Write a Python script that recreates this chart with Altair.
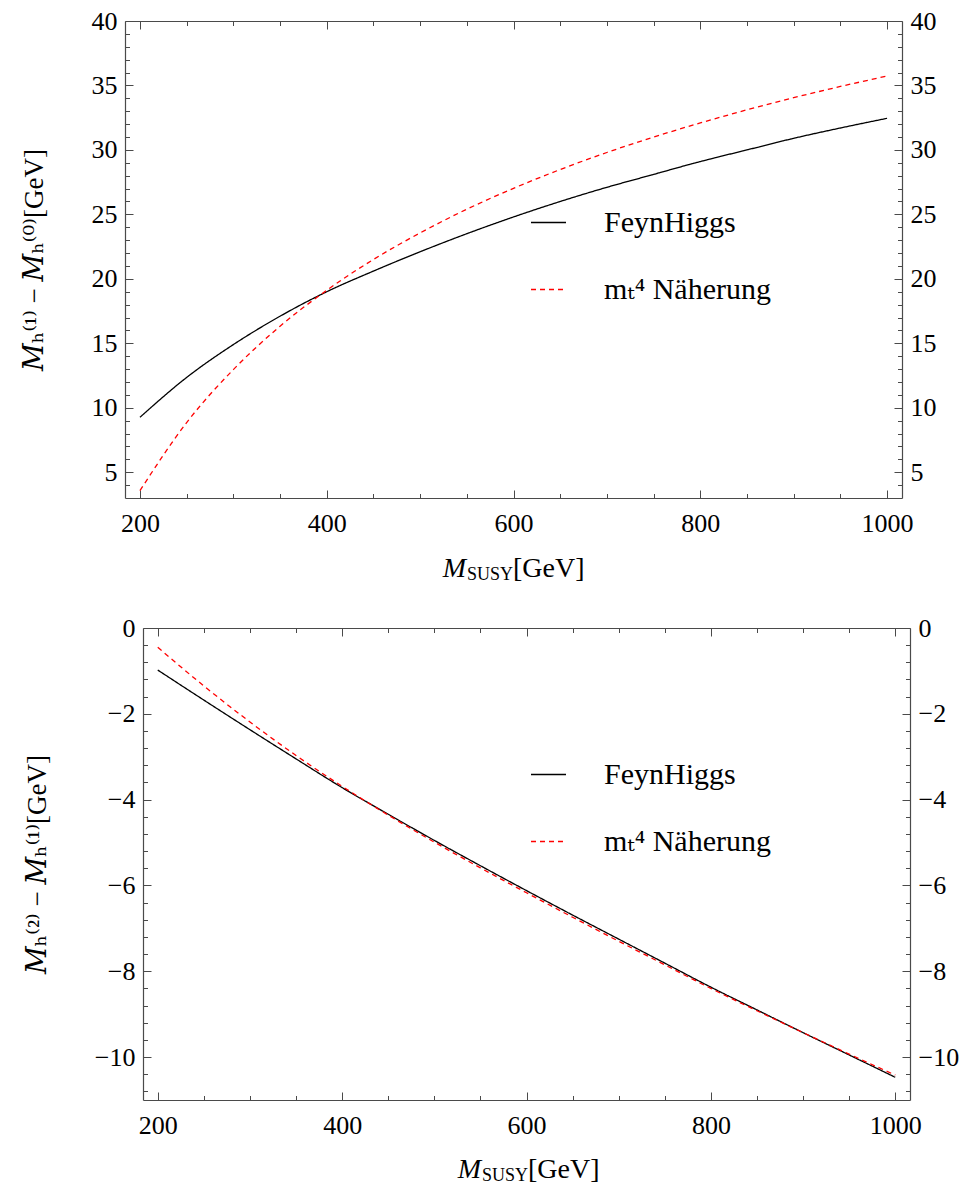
import altair as alt
import pandas as pd

# ---------------- data ----------------
M_SUSY = [200, 250, 300, 350, 400, 450, 500, 550, 600, 650, 700, 750, 800, 850, 900, 950, 1000]

# upper panel: M_h^(1) - M_h^(0) [GeV]
TOP_FEYNHIGGS = [9.26, 12.35, 14.9, 17.1, 19.0, 20.6, 22.1, 23.5, 24.8, 26.0, 27.1, 28.1, 29.1, 30.0, 30.9, 31.7, 32.45]
TOP_MT4 = [3.57, 8.85, 12.96, 16.32, 19.11, 21.50, 23.56, 25.40, 27.02, 28.48, 29.80, 31.00, 32.09, 33.11, 34.05, 34.92, 35.73]

# lower panel: M_h^(2) - M_h^(1) [GeV]
BOT_FEYNHIGGS = [-0.98, -1.68, -2.37, -3.05, -3.72, -4.34, -4.95, -5.54, -6.12, -6.69, -7.25, -7.81, -8.37, -8.90, -9.43, -9.95, -10.47]
BOT_MT4 = [-0.45, -1.35, -2.19, -2.97, -3.69, -4.36, -4.99, -5.59, -6.17, -6.74, -7.30, -7.85, -8.40, -8.92, -9.43, -9.93, -10.42]

SERIES = ["FeynHiggs", "mₜ⁴ Näherung"]

X_DOMAIN = [184, 1016]
X_MAJOR = [200, 400, 600, 800, 1000]
X_MINOR = [250, 300, 350, 450, 500, 550, 650, 700, 750, 850, 900, 950]

TOP_Y_DOMAIN = [3, 40]
TOP_Y_MAJOR = [5, 10, 15, 20, 25, 30, 35, 40]
TOP_Y_MINOR = [4, 6, 7, 8, 9, 11, 12, 13, 14, 16, 17, 18, 19, 21, 22, 23, 24,
               26, 27, 28, 29, 31, 32, 33, 34, 36, 37, 38, 39]

BOT_Y_DOMAIN = [-11, 0]
BOT_Y_MAJOR = [0, -2, -4, -6, -8, -10]
BOT_Y_MINOR = [-0.4, -0.8, -1.2, -1.6, -2.4, -2.8, -3.2, -3.6, -4.4, -4.8, -5.2, -5.6,
               -6.4, -6.8, -7.2, -7.6, -8.4, -8.8, -9.2, -9.6, -10.4, -10.8]

FONT = "'Liberation Serif', 'DejaVu Serif', serif"
FRAME = "#4a4a4a"


def long_df(a, b):
    n = len(M_SUSY)
    return pd.DataFrame({
        "M": M_SUSY + M_SUSY,
        "v": a + b,
        "s": [SERIES[0]] * n + [SERIES[1]] * n,
    })


def text_layer(s, x, y, size, style="normal", align="left"):
    return alt.Chart(pd.DataFrame({"t": [s]})).mark_text(
        align=align, baseline="alphabetic", font=FONT, fontSize=size,
        fontStyle=style, color="black"
    ).encode(x=alt.value(x), y=alt.value(y), text="t:N")


def panel(df, ydom, y_major, y_minor, ytitle, w, h, x0, title_x, legend_y, xt):
    xs = alt.Scale(domain=X_DOMAIN, range=[x0, w], nice=False, zero=False)
    ys = alt.Scale(domain=ydom, nice=False, zero=False)

    def X(axis):
        return alt.X("M:Q", scale=xs, axis=axis)

    def Y(axis):
        return alt.Y("v:Q", scale=ys, axis=axis)

    base = alt.Chart(df)
    tk = dict(labels=False, grid=False, title=None, tickColor=FRAME, tickWidth=1,
              domainColor=FRAME, domainWidth=1.2)

    leg = alt.Legend(orient="none", legendX=405, legendY=legend_y, title=None,
                     symbolType="stroke", symbolSize=1225, symbolStrokeWidth=1.3,
                     labelFont=FONT, labelFontSize=30, labelOffset=37,
                     rowPadding=33, padding=0, labelLimit=400)

    lines = base.mark_line(strokeWidth=1.3, interpolate="monotone").encode(
        x=X(alt.Axis(orient="bottom", values=X_MAJOR, ticks=False, tickSize=0,
                     labelPadding=12, domain=True, domainColor=FRAME, domainWidth=1.2,
                     title=None, grid=False, format="d", labelFont=FONT)),
        y=Y(alt.Axis(orient="left", values=y_major, ticks=False, tickSize=0,
                     labelPadding=8, offset=-x0, domain=True, domainColor=FRAME,
                     domainWidth=1.2, grid=False, format="d", title=ytitle,
                     titleX=title_x, titleY=h / 2, titleAlign="center",
                     titleBaseline="middle", titleAngle=270, labelFont=FONT,
                     titleFont=FONT)),
        color=alt.Color("s:N", scale=alt.Scale(domain=SERIES, range=["black", "#ff0000"]),
                        legend=leg),
        strokeDash=alt.StrokeDash("s:N", scale=alt.Scale(domain=SERIES, range=[[1, 0], [5, 4]]),
                                  legend=leg),
    )

    inv = base.mark_point(opacity=0, size=1)

    major_a = inv.encode(
        x=X(alt.Axis(orient="top", offset=-h, values=X_MAJOR, tickSize=8, domain=False, **tk)),
        y=Y(alt.Axis(orient="right", offset=x0 - w, values=y_major, tickSize=8, domain=False, **tk)),
    )
    major_b = inv.encode(
        x=X(alt.Axis(orient="bottom", offset=-h, values=X_MAJOR, tickSize=8, domain=True, **tk)),
        y=Y(alt.Axis(orient="left", offset=-w, values=y_major, tickSize=8, domain=False, **tk)),
    )
    minor_a = inv.encode(
        x=X(alt.Axis(orient="top", offset=-h, values=X_MINOR, tickSize=4.5, domain=False, **tk)),
        y=Y(alt.Axis(orient="right", offset=x0 - w, values=y_minor, tickSize=4.5, domain=False, **tk)),
    )
    minor_b = inv.encode(
        x=X(alt.Axis(orient="bottom", offset=-h, values=X_MINOR, tickSize=4.5, domain=False, **tk)),
        y=Y(alt.Axis(orient="left", offset=-w, values=y_minor, tickSize=4.5, domain=False, **tk)),
    )
    right_labels = inv.encode(
        x=X(None),
        y=Y(alt.Axis(orient="right", values=y_major, ticks=False, tickSize=0, labelPadding=8,
                     domain=True, domainColor=FRAME, domainWidth=1.2, grid=False,
                     format="d", title=None, labelFont=FONT)),
    )

    sx, base_y = xt
    t1 = text_layer("M", sx - 1, base_y, 28, style="italic", align="right")
    t2 = text_layer("SUSY", sx, base_y + 3, 18)
    t3 = text_layer("[GeV]", sx + 46, base_y, 28)

    return alt.layer(lines, major_a, major_b, minor_a, minor_b, right_labels, t1, t2, t3).resolve_axis(
        x="independent", y="independent"
    ).properties(width=w, height=h)


top = panel(long_df(TOP_FEYNHIGGS, TOP_MT4), TOP_Y_DOMAIN, TOP_Y_MAJOR, TOP_Y_MINOR,
            "𝑀ₕ⁽¹⁾ − 𝑀ₕ⁽⁰⁾[GeV]", 777, 477, 0, -91, 183, (342, 556))
bottom = panel(long_df(BOT_FEYNHIGGS, BOT_MT4), BOT_Y_DOMAIN, BOT_Y_MAJOR, BOT_Y_MINOR,
               "𝑀ₕ⁽²⁾ − 𝑀ₕ⁽¹⁾[GeV]", 785, 472, 18, -106, 128, (357, 550))

chart = alt.vconcat(top, bottom, spacing=31).resolve_scale(
    x="independent", y="independent", color="independent", strokeDash="independent"
).resolve_legend(
    color="independent", strokeDash="independent"
).properties(
    padding={"left": 12, "top": 0, "right": 5, "bottom": 8}
).configure_view(stroke=None).configure_axis(
    labelFont=FONT, titleFont=FONT, labelFontSize=26, titleFontSize=27,
    titleFontWeight="normal", labelColor="black", titleColor="black"
).configure_text(font=FONT).configure_legend(labelFont=FONT)

chart.save("out.html", embed_options={"renderer": "svg", "actions": False})
